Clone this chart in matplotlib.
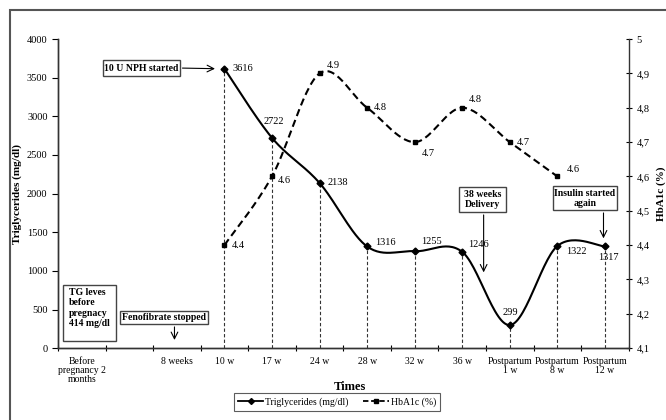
import numpy as np
import matplotlib
matplotlib.use("Agg")
import matplotlib.pyplot as plt
from matplotlib.patches import Rectangle
from matplotlib.lines import Line2D
from matplotlib.ticker import FuncFormatter

plt.rcParams["font.family"] = ["Liberation Serif", "DejaVu Serif"]

# categories on the x axis
categories = ["Before\npregnancy 2\nmonths", "", "8 weeks", "10 w", "17 w", "24 w",
              "28 w", "32 w", "36 w", "Postpartum\n1 w", "Postpartum\n8 w",
              "Postpartum\n12 w"]

# triglycerides (mg/dl), from 10 w onwards
tg_idx = [3, 4, 5, 6, 7, 8, 9, 10, 11]
tg_vals = [3616, 2722, 2138, 1316, 1255, 1246, 299, 1322, 1317]

# HbA1c (%), from 10 w to postpartum 8 w
hb_idx = [3, 4, 5, 6, 7, 8, 9, 10]
hb_vals = [4.4, 4.6, 4.9, 4.8, 4.7, 4.8, 4.7, 4.6]


def smooth(xs, ys, n=30):
    # Excel-like smoothed line (cubic bezier / catmull-rom)
    x = np.asarray(xs, float)
    y = np.asarray(ys, float)
    px, py = [], []
    for i in range(len(x) - 1):
        i0 = max(i - 1, 0)
        i3 = min(i + 2, len(x) - 1)
        c1x = x[i] + (x[i + 1] - x[i0]) / 6
        c1y = y[i] + (y[i + 1] - y[i0]) / 6
        c2x = x[i + 1] - (x[i3] - x[i]) / 6
        c2y = y[i + 1] - (y[i3] - y[i]) / 6
        t = np.linspace(0, 1, n)
        a = (1 - t) ** 3
        b = 3 * (1 - t) ** 2 * t
        c = 3 * (1 - t) * t ** 2
        d = t ** 3
        px.extend(a * x[i] + b * c1x + c * c2x + d * x[i + 1])
        py.extend(a * y[i] + b * c1y + c * c2y + d * y[i + 1])
    return px, py


fig = plt.figure(figsize=(6.66, 4.2), dpi=100)
ax = fig.add_axes([0.087, 0.171, 0.857, 0.736])
ax2 = ax.twinx()

# outer frame (only left and top visible)
top = 1 - 10 / 420
fig.patches.append(Rectangle((10 / 666, -0.1), 1.2, top + 0.1,
                             transform=fig.transFigure, fill=False,
                             edgecolor="#555555", lw=1.5))

# drop lines
for xi, v in zip(tg_idx, tg_vals):
    ax.plot([xi, xi], [0, v], color="#333333", lw=0.8, ls=(0, (3, 2)), zorder=1)

sx, sy = smooth(tg_idx, tg_vals)
ax.plot(sx, sy, color="black", lw=1.5, zorder=3)
ax.plot(tg_idx, tg_vals, ls="none", marker="D", ms=3.5, color="black", zorder=4)

hx, hy = smooth(hb_idx, hb_vals)
ax2.plot(hx, hy, color="black", lw=1.5, ls=(0, (3.5, 2)), zorder=3)
ax2.plot(hb_idx, hb_vals, ls="none", marker="s", ms=3.5, color="black", zorder=4)

# data labels
fs = 7.5
tg_off = [(6, 0), (-6, 12), (6, 0), (6, 3), (5, 7), (4, 5), (-5, 9), (6, -4), (-5, -8)]
for xi, v, (dx, dy) in zip(tg_idx, tg_vals, tg_off):
    ax.annotate(str(v), (xi, v), xytext=(dx, dy), textcoords="offset points",
                fontsize=fs, ha="left", va="center")
hb_off = [(5, 0), (4, -3), (5, 6), (5, 0), (5, -8), (5, 6), (5, 0), (7, 5)]
for xi, v, (dx, dy) in zip(hb_idx, hb_vals, hb_off):
    ax2.annotate(f"{v}", (xi, v), xytext=(dx, dy), textcoords="offset points",
                 fontsize=fs, ha="left", va="center")

# axes limits and ticks
ax.set_xlim(-0.5, len(categories) - 0.5)
ax.set_ylim(0, 4000)
ax.set_yticks(np.arange(0, 4001, 500))
ax2.set_ylim(4.1, 5.0)
ax2.set_yticks(np.arange(4.1, 5.01, 0.1))
ax2.yaxis.set_major_formatter(FuncFormatter(
    lambda v, p: "5" if abs(v - 5) < 1e-6 else f"{v:.1f}".replace(".", ",")))

ax.set_xticks(np.arange(-0.5, len(categories), 1.0))
ax.set_xticklabels([])
ax.set_xticks(np.arange(len(categories)), minor=True)
ax.set_xticklabels(categories, minor=True, fontsize=7, linespacing=1.05)
ax.tick_params(axis="x", which="minor", length=0, pad=6)
ax.tick_params(axis="x", which="major", length=4, direction="inout")
ax.tick_params(axis="y", labelsize=fs, length=4, direction="out")
ax2.tick_params(axis="y", labelsize=fs, length=4, direction="inout")

for a in (ax, ax2):
    a.spines["top"].set_visible(False)
    for s in a.spines.values():
        s.set_color("#333333")
        s.set_linewidth(1.0)
ax.spines["right"].set_visible(False)

ax.set_ylabel("Triglycerides (mg/dl)", fontsize=8, fontweight="bold")
ax.yaxis.set_label_coords(-0.063, 0.5)
ax2.set_ylabel("HbA1c (%)", fontsize=8, fontweight="bold", rotation=90)
ax2.yaxis.set_label_coords(1.049, 0.5)
ax.set_xlabel("Times", fontsize=9, fontweight="bold")
ax.xaxis.set_label_coords(0.511, -0.107)

# annotation boxes
def box(x0, x1, y0, y1, text, ha="center", tx=None, ty=None):
    ax.add_patch(Rectangle((x0, y0), x1 - x0, y1 - y0, fill=True, facecolor="white",
                           edgecolor="#444444", lw=1.0, zorder=5, clip_on=False))
    if tx is None:
        tx = (x0 + x1) / 2
    if ty is None:
        ty = (y0 + y1) / 2
    ax.text(tx, ty, text, ha=ha, va="center", fontsize=7, fontweight="bold",
            zorder=6, linespacing=1.15)


arrow = dict(arrowstyle="->", color="black", lw=0.8, mutation_scale=12)

box(0.45, 2.06, 3520, 3730, "10 U NPH started")
ax.annotate("", xy=(2.86, 3616), xytext=(2.06, 3625), arrowprops=arrow, zorder=6)

box(-0.39, 0.72, 90, 815, "TG leves\nbefore\npregnacy\n414 mg/dl", ha="left",
    tx=-0.27, ty=520)

box(0.80, 2.65, 311, 479, "Fenofibrate stopped")
ax.annotate("", xy=(1.95, 70), xytext=(1.95, 311), arrowprops=arrow, zorder=6)

box(7.93, 8.93, 1760, 2084, "38 weeks\nDelivery")
ax.annotate("", xy=(8.45, 945), xytext=(8.45, 1760), arrowprops=arrow, zorder=6)

box(9.9, 11.26, 1786, 2097, "Insulin started\nagain")
ax.annotate("", xy=(10.97, 1385), xytext=(10.97, 1786), arrowprops=arrow, zorder=6)

# legend
handles = [Line2D([], [], color="black", lw=1.3, marker="D", ms=3),
           Line2D([], [], color="black", lw=1.3, ls=(0, (3, 1.5)), marker="s", ms=3)]
leg = fig.legend(handles, ["Triglycerides (mg/dl)", "HbA1c (%)"], loc="center",
                 bbox_to_anchor=(0.506, 0.043), ncol=2, fontsize=7, frameon=True,
                 fancybox=False, handlelength=2.6, handletextpad=0.2,
                 columnspacing=1.5, borderpad=0.4)
leg.get_frame().set_edgecolor("#333333")
leg.get_frame().set_linewidth(0.8)

fig.savefig("out.png", dpi=100)
